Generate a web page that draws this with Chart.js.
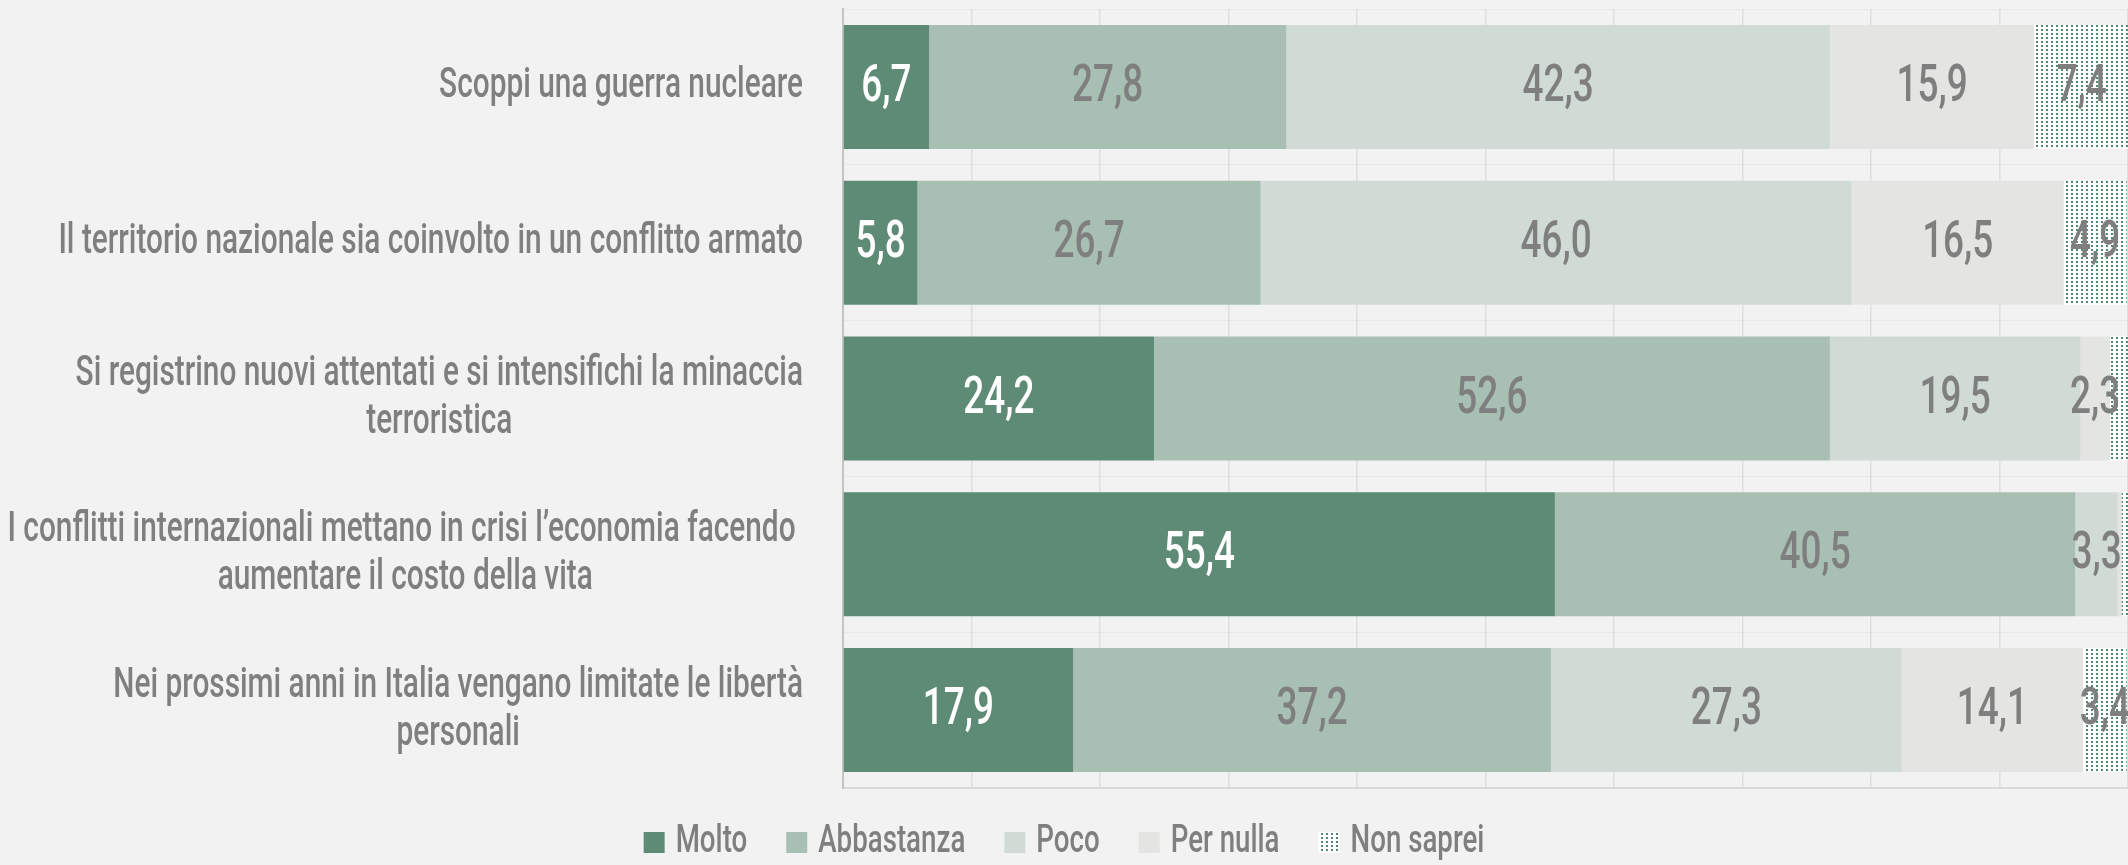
<!DOCTYPE html>
<html>
<head>
<meta charset="utf-8">
<script src="https://cdn.jsdelivr.net/npm/chart.js@4.4.1/dist/chart.umd.min.js"></script>
<style>
    html, body { margin: 0; padding: 0; background: #f2f2f2; }
    #wrap { width: 2128px; height: 865px; }
</style>
</head>
<body>
<div id="wrap"><canvas id="chart"></canvas></div>
<script>
// Categories (one per bar, top to bottom)
const categories = [
    'Scoppi una guerra nucleare',
    'Il territorio nazionale sia coinvolto in un conflitto armato',
    ['Si registrino nuovi attentati e si intensifichi la minaccia', 'terroristica'],
    ['I conflitti internazionali mettano in crisi l\u2019economia facendo ', 'aumentare il costo della vita'],
    ['Nei prossimi anni in Italia vengano limitate le libert\u00e0', 'personali']
];

const seriesNames = ['Molto', 'Abbastanza', 'Poco', 'Per nulla', 'Non saprei'];

const molto = [6.7, 5.8, 24.2, 55.4, 17.9];
const abbastanza = [27.8, 26.7, 52.6, 40.5, 37.2];
const poco = [42.3, 46.0, 19.5, 3.3, 27.3];
const perNulla = [15.9, 16.5, 2.3, 0.3, 14.1];
const nonSaprei = [7.4, 4.9, 1.4, 0.5, 3.4];

const FONT = "Roboto, 'DejaVu Sans Condensed', sans-serif";
const GREY = '#7f7f7f';
// the original uses a condensed face, so text is squeezed sideways
const SQUEEZE = 0.71;

// Dotted fill for "Non saprei"
function dotPattern() {
    let c = document.createElement('canvas');
    c.width = 5;
    c.height = 4;
    let cx = c.getContext('2d');
    cx.fillStyle = '#ffffff';
    cx.fillRect(0, 0, 5, 4);
    cx.fillStyle = '#4f8a6c';
    cx.fillRect(1, 1, 2, 2);
    return cx.createPattern(c, 'repeat');
}

function squeezedText(ctx, text, x, y) {
    ctx.save();
    ctx.translate(x, y);
    ctx.scale(SQUEEZE, 1);
    ctx.fillText(text, 0, 0);
    ctx.restore();
}

// Wrapped labels: widest line ends at the axis, other lines centred under it
function drawCenteredLabels(scale) {
    const ctx = scale.ctx;
    const opts = scale.options.ticks;
    const font = Chart.helpers.toFont(opts.font);
    const rightX = scale.right - 40;
    ctx.save();
    ctx.font = font.string;
    ctx.fillStyle = opts.color;
    ctx.textAlign = 'center';
    ctx.textBaseline = 'middle';
    scale.ticks.forEach((tick, i) => {
        let lines = [].concat(tick.label);
        let w = Math.max(...lines.map(l => ctx.measureText(l).width)) * SQUEEZE;
        let y0 = scale.getPixelForTick(i) - (lines.length - 1) * font.lineHeight / 2;
        lines.forEach((l, j) => {
            squeezedText(ctx, l, rightX - w / 2, y0 + j * font.lineHeight);
        });
    });
    ctx.restore();
}

// Values written inside each segment
const valueLabels = {
    id: 'valueLabels',
    afterDatasetsDraw(chart) {
        const ctx = chart.ctx;
        ctx.save();
        ctx.font = '500 52px ' + FONT;
        ctx.textAlign = 'center';
        ctx.textBaseline = 'middle';
        chart.data.datasets.forEach((ds, d) => {
            let meta = chart.getDatasetMeta(d);
            meta.data.forEach((bar, i) => {
                let v = ds.data[i];
                if (v < 2) return;
                let cx = (bar.x + bar.base) / 2;
                ctx.fillStyle = d == 0 ? '#ffffff' : GREY;
                squeezedText(ctx, v.toFixed(1).replace('.', ','), cx, bar.y + 1);
            });
        });
        ctx.restore();
    }
};

// Legend row under the plot (condensed text needs its own spacing)
const bottomLegend = {
    id: 'bottomLegend',
    afterDraw(chart) {
        const ctx = chart.ctx;
        const box = 21, gapText = 11, gapItem = 39;
        const y = 842.5;
        ctx.save();
        ctx.font = '500 39px ' + FONT;
        ctx.textAlign = 'left';
        ctx.textBaseline = 'middle';
        let items = chart.data.datasets.map(ds => ({
            text: ds.label,
            fill: ds.backgroundColor,
            w: ctx.measureText(ds.label).width * SQUEEZE
        }));
        let total = items.reduce((s, it) => s + box + gapText + it.w, 0) + gapItem * (items.length - 1);
        let x = chart.width / 2 - total / 2;
        items.forEach(it => {
            ctx.fillStyle = it.fill;
            ctx.fillRect(x, y - box / 2, box, box);
            x += box + gapText;
            ctx.fillStyle = GREY;
            squeezedText(ctx, it.text, x, y);
            x += it.w + gapItem;
        });
        ctx.restore();
    }
};

const colors = ['#5d8b75', '#a8bfb4', '#d0dbd6', '#e4e4e2', dotPattern()];
const values = [molto, abbastanza, poco, perNulla, nonSaprei];

let chart = new Chart(document.getElementById('chart'), {
    type: 'bar',
    data: {
        labels: categories,
        datasets: seriesNames.map((name, i) => ({
            label: name,
            data: values[i],
            backgroundColor: colors[i],
            borderWidth: 0,
            categoryPercentage: 1,
            barPercentage: 0.796
        }))
    },
    options: {
        indexAxis: 'y',
        responsive: true,
        maintainAspectRatio: false,
        animation: false,
        layout: {
            padding: { top: 9, right: 0, bottom: 77, left: 0 }
        },
        scales: {
            x: {
                stacked: true,
                min: 0,
                max: 100,
                z: 1,
                ticks: { display: false, stepSize: 10 },
                grid: {
                    color: 'rgba(0, 0, 0, 0.08)',
                    lineWidth: 1.5,
                    drawTicks: false
                },
                border: { color: '#d9d9d9', width: 2 }
            },
            y: {
                stacked: true,
                afterFit: (scale) => {
                    scale.width = 843;
                    scale.paddingTop = 0;
                    scale.paddingBottom = 0;
                    scale.drawLabels = function() { drawCenteredLabels(this); };
                },
                ticks: {
                    color: GREY,
                    padding: 0,
                    font: { family: FONT, size: 42, weight: '500', lineHeight: 1.14 }
                },
                grid: {
                    color: 'rgba(0, 0, 0, 0.035)',
                    drawTicks: false
                },
                border: { color: '#c4c4c4', width: 2 }
            }
        },
        plugins: {
            legend: { display: false },
            tooltip: { enabled: false }
        }
    },
    plugins: [valueLabels, bottomLegend]
});
</script>
</body>
</html>
